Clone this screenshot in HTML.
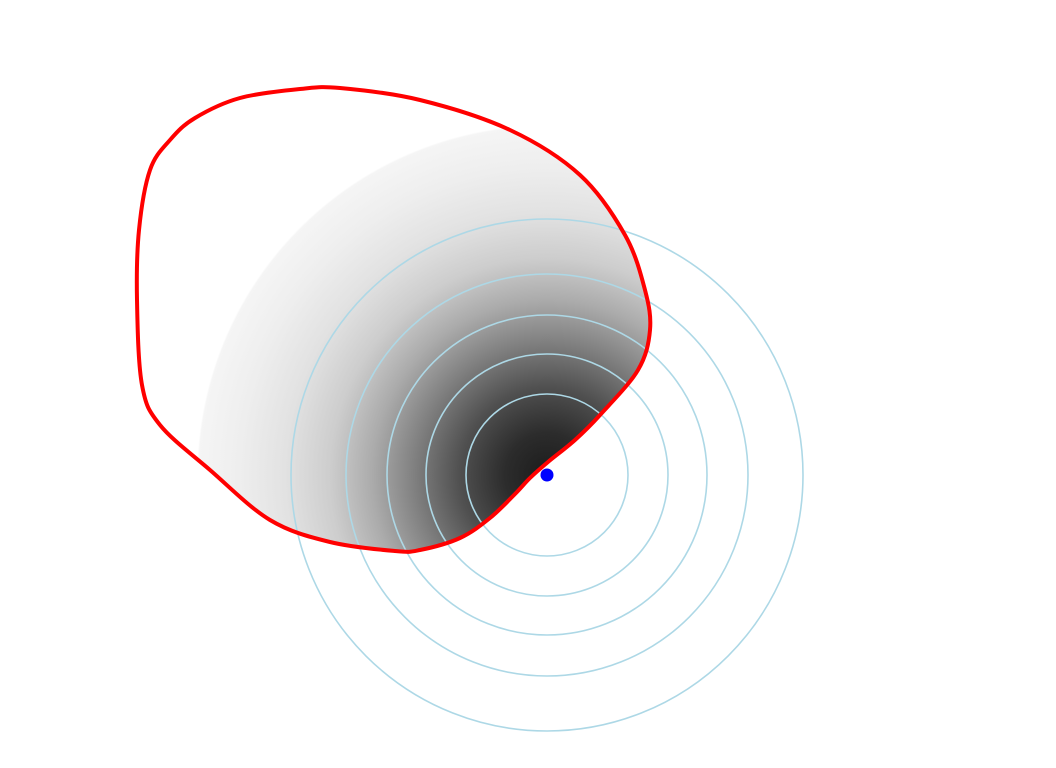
<!DOCTYPE html>
<html><head><meta charset="utf-8"><style>html,body{margin:0;background:#fff;width:1056px;height:768px;overflow:hidden}</style></head>
<body>
<svg id="chart" width="1056" height="768" viewBox="0 0 1056 768" xmlns="http://www.w3.org/2000/svg">
<defs>
<radialGradient id="grad" gradientUnits="userSpaceOnUse" cx="547" cy="475" r="350">
<stop offset="0" stop-color="#1c1c1c"/>
<stop offset="0.12" stop-color="#2c2c2c"/>
<stop offset="0.25" stop-color="#505050"/>
<stop offset="0.38" stop-color="#808080"/>
<stop offset="0.5" stop-color="#ababab"/>
<stop offset="0.62" stop-color="#cdcdcd"/>
<stop offset="0.75" stop-color="#e2e2e2"/>
<stop offset="0.88" stop-color="#eeeeee"/>
<stop offset="0.995" stop-color="#f5f5f5"/>
<stop offset="1" stop-color="#ffffff"/>
</radialGradient>
<clipPath id="blobclip"><path id="clipPath"/></clipPath>
</defs>
<g id="layer"></g>
</svg>
<script>
const center = [547, 475];
const ringRadii = [81, 121, 160, 201, 256];
const blobX = [195,240,300,340,420,510,580,625,645,650,638,600,575,548,530,515,490,460,420,395,330,270,210,160,142,137,139,150,170,195];
const blobY = [118,98,89,88,100,130,175,235,290,330,370,415,440,462,478,494,518,538,550,551,542,520,470,425,385,300,230,170,140,118];
const NS='http://www.w3.org/2000/svg';
const layer=document.getElementById('layer');
function smooth(){
  const n=blobX.length-1; let s='M'+blobX[0]+','+blobY[0];
  for(let i=0;i<n;i++){
    const p0=[blobX[(i-1+n)%n],blobY[(i-1+n)%n]],p1=[blobX[i],blobY[i]],p2=[blobX[i+1],blobY[i+1]],p3=[blobX[(i+2)%n],blobY[(i+2)%n]];
    const c1=[p1[0]+(p2[0]-p0[0])/6,p1[1]+(p2[1]-p0[1])/6],c2=[p2[0]-(p3[0]-p1[0])/6,p2[1]-(p3[1]-p1[1])/6];
    s+='C'+c1+' '+c2+' '+p2;
  }
  return s+'Z';
}
const d=smooth();
document.getElementById('clipPath').setAttribute('d',d);
const fill=document.createElementNS(NS,'path');
fill.setAttribute('d',d);fill.setAttribute('fill','url(#grad)');


layer.appendChild(fill);
ringRadii.forEach(r=>{
  const c=document.createElementNS(NS,'circle');
  c.setAttribute('cx',center[0]);c.setAttribute('cy',center[1]);c.setAttribute('r',r);
  c.setAttribute('fill','none');c.setAttribute('stroke','#add8e6');c.setAttribute('stroke-width','1.6');
  
  
  layer.appendChild(c);
});
const outline=document.createElementNS(NS,'path');
outline.setAttribute('d',d);outline.setAttribute('fill','none');outline.setAttribute('stroke','#ff0000');outline.setAttribute('stroke-width','4');


layer.appendChild(outline);
const pt=document.createElementNS(NS,'circle');
pt.setAttribute('cx',center[0]);pt.setAttribute('cy',center[1]);pt.setAttribute('r',6.5);pt.setAttribute('fill','#0000ff');


layer.appendChild(pt);
</script>
</body></html>
